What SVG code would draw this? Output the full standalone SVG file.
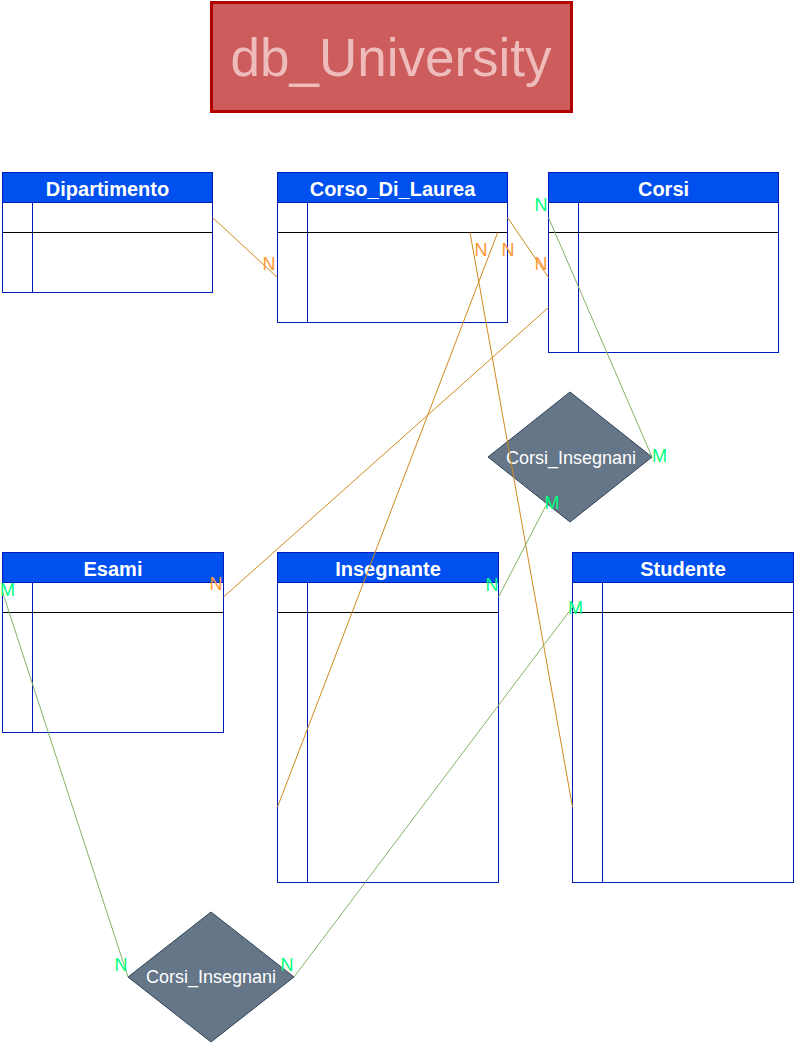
<svg xmlns="http://www.w3.org/2000/svg" width="794" height="1043" viewBox="0 0 794 1043">
<style>
.body{fill:#ffffff;stroke:#001DBC;stroke-width:1}
.hdr{fill:#0050ef;stroke:#001DBC;stroke-width:1}
.div{stroke:#001DBC;stroke-width:1;fill:none}
.row{stroke:#000000;stroke-width:1;fill:none}
.ht{font-family:"Liberation Sans",Arial,sans-serif;font-weight:bold;font-size:20px;fill:#ffffff;text-anchor:middle}
.dia{fill:#647687;stroke:#314354;stroke-width:1}
.dt{font-family:"Liberation Sans",Arial,sans-serif;font-size:18px;fill:#ffffff;text-anchor:middle}
.co{stroke:#d08a1e;stroke-width:1;fill:none}
.cg{stroke:#82b366;stroke-width:1;fill:none}
.lo{font-family:"Liberation Sans",Arial,sans-serif;font-size:18px;fill:#ff9933;text-anchor:middle}
.lg{font-family:"Liberation Sans",Arial,sans-serif;font-size:18px;fill:#00ff80;text-anchor:middle}
</style>
<rect width="794" height="1043" fill="#ffffff"/>
<g id="title">
<rect x="211.5" y="2.5" width="360" height="109" fill="#cd5c5c" stroke="#b20000" stroke-width="3"/>
<text x="391" y="76" font-family="'Liberation Sans',Arial,sans-serif" font-size="53" fill="#efbcbc" text-anchor="middle">db_University</text>
</g>
<g id="Dipartimento">
<rect class="body" x="2.5" y="172.5" width="210" height="120"/>
<rect class="hdr" x="2.5" y="172.5" width="210" height="30"/>
<line class="div" x1="32.5" y1="202.5" x2="32.5" y2="292.5"/>
<line class="row" x1="2.5" y1="232.5" x2="212.5" y2="232.5"/>
<text class="ht" x="107.5" y="196">Dipartimento</text>
</g>
<g id="Corso_Di_Laurea">
<rect class="body" x="277.5" y="172.5" width="230" height="150"/>
<rect class="hdr" x="277.5" y="172.5" width="230" height="30"/>
<line class="div" x1="307.5" y1="202.5" x2="307.5" y2="322.5"/>
<line class="row" x1="277.5" y1="232.5" x2="507.5" y2="232.5"/>
<text class="ht" x="392.5" y="196">Corso_Di_Laurea</text>
</g>
<g id="Corsi">
<rect class="body" x="548.5" y="172.5" width="230" height="180"/>
<rect class="hdr" x="548.5" y="172.5" width="230" height="30"/>
<line class="div" x1="578.5" y1="202.5" x2="578.5" y2="352.5"/>
<line class="row" x1="548.5" y1="232.5" x2="778.5" y2="232.5"/>
<text class="ht" x="663.5" y="196">Corsi</text>
</g>
<g id="Esami">
<rect class="body" x="2.5" y="552.5" width="221" height="180"/>
<rect class="hdr" x="2.5" y="552.5" width="221" height="30"/>
<line class="div" x1="32.5" y1="582.5" x2="32.5" y2="732.5"/>
<line class="row" x1="2.5" y1="612.5" x2="223.5" y2="612.5"/>
<text class="ht" x="113" y="576">Esami</text>
</g>
<g id="Insegnante">
<rect class="body" x="277.5" y="552.5" width="221" height="330"/>
<rect class="hdr" x="277.5" y="552.5" width="221" height="30"/>
<line class="div" x1="307.5" y1="582.5" x2="307.5" y2="882.5"/>
<line class="row" x1="277.5" y1="612.5" x2="498.5" y2="612.5"/>
<text class="ht" x="388" y="576">Insegnante</text>
</g>
<g id="Studente">
<rect class="body" x="572.5" y="552.5" width="221" height="330"/>
<rect class="hdr" x="572.5" y="552.5" width="221" height="30"/>
<line class="div" x1="602.5" y1="582.5" x2="602.5" y2="882.5"/>
<line class="row" x1="572.5" y1="612.5" x2="793.5" y2="612.5"/>
<text class="ht" x="683" y="576">Studente</text>
</g>
<g id="Corsi_Insegnani_1">
<polygon class="dia" points="570,392 652,457 570,522 488,457"/>
<text class="dt" x="571" y="464">Corsi_Insegnani</text>
</g>
<g id="Corsi_Insegnani_2">
<polygon class="dia" points="211,912 294,977 211,1042 128,977"/>
<text class="dt" x="211" y="983">Corsi_Insegnani</text>
</g>
<g id="connectors">
<line class="co" x1="212.5" y1="217.5" x2="277.5" y2="277.5"/>
<line class="co" x1="507.5" y1="217.5" x2="548.5" y2="277.5"/>
<line class="co" x1="548.5" y1="307.5" x2="223.5" y2="597"/>
<line class="co" x1="497.7" y1="232.5" x2="277.5" y2="807"/>
<line class="co" x1="470" y1="232.5" x2="572.5" y2="807"/>
<line class="cg" x1="548.5" y1="217.5" x2="652" y2="457"/>
<line class="cg" x1="498.5" y1="597" x2="547" y2="503.5"/>
<line class="cg" x1="2.5" y1="592" x2="128" y2="977"/>
<line class="cg" x1="572.5" y1="607" x2="294" y2="977"/>
<text class="lo" x="269" y="270">N</text>
<text class="lo" x="541" y="270">N</text>
<text class="lo" x="481" y="256">N</text>
<text class="lo" x="508" y="256">N</text>
<text class="lo" x="216" y="590">N</text>
<text class="lg" x="541" y="211">N</text>
<text class="lg" x="659.5" y="462">M</text>
<text class="lg" x="552" y="509">M</text>
<text class="lg" x="492" y="591">N</text>
<text class="lg" x="7.5" y="596">M</text>
<text class="lg" x="575.5" y="614">M</text>
<text class="lg" x="121" y="971">N</text>
<text class="lg" x="287" y="971">N</text>
</g>
</svg>
